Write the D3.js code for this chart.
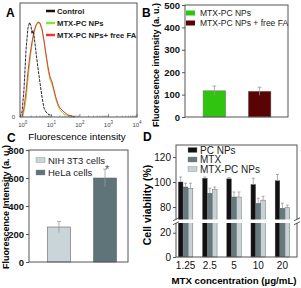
<!DOCTYPE html>
<html><head><meta charset="utf-8">
<script src="https://cdn.jsdelivr.net/npm/d3@7"></script>
<style>body{margin:0;background:#fff}svg{display:block;font-family:"Liberation Sans",Arial,sans-serif}</style>
</head><body><svg id="c" width="301" height="288"></svg>
<script>
// ---------- Panel A data (flow cytometry histograms) ----------
const aCtrlIntensity = [0.8,0.94,1.10,1.30,1.52,1.72,1.94,2.10,2.28,2.47,2.90,3.41,4.01,4.71,5.53,6.51,7.65,10.6];
const aCtrlCount     = [0,4.4,23.7,58.8,78,83,80,73,76,72,57,43,30,17.5,7.9,4.4,2.6,0.9];
const aNPIntensity   = [0.94,1.10,1.30,1.52,1.79,2.10,2.47,2.90,3.41,4.01,4.71,5.53,6.51,7.65,9.0,10.6,12.4,14.6,17.1,20.1,27.8,38.4,53.0,67.5];
const aNPCount       = [0,4.4,14.9,32.5,50,63,73.7,79.8,82.5,81.6,76.3,65.8,53.5,41.2,32.5,28,21.9,14.9,9.6,6.1,2.6,0.9,0,0];
const aNPFACount     = [0,7.9,21.9,39.5,54.4,65.8,74.6,80.7,83.3,82.5,77.2,67.5,55.3,43.9,35.1,30.7,23.7,16.7,11.4,7.9,4.4,1.75,0.9,0];
const aSeries = ["Control","MTX-PC NPs","MTX-PC NPs+ free FA"];
const aColors = ["#111111","#7ee83a","#f0323c"];
const aTickPowers = [0,1,2,3,4];

// ---------- Panel B data ----------
const bCategories = ["MTX-PC NPs","MTX-PC NPs + free FA"];
const bValues = [117,115];
const bErrors = [21,18];
const bColors = ["#2fc40f","#5a0304"];
const bTicks = [0,100,200,300,400,500];

// ---------- Panel C data ----------
const cCategories = ["NIH 3T3 cells","HeLa cells"];
const cValues = [250,600];
const cErrors = [40,63];
const cColors = ["#c9d5d8","#5f7479"];
const cTicks = [0,200,400,600,800];

// ---------- Panel D data ----------
const dConc = ["1.25","2.5","5","10","20"];
const dSeries = ["PC NPs","MTX","MTX-PC NPs"];
const dPC   = [100,103,102.5,98,101];
const dMTX  = [96,91,88,83,79];
const dMTXPC= [95,94,88,85.5,79.5];
const dPCErr   = [4,1,1,5,5];
const dMTXErr  = [3,4,4,4,4];
const dMTXPCErr= [4,2,4,3,2];
const dColors = ["#111111","#66797f","#c6d2d5"];
const dUpperTicks = [80,100,120];
const dLowerTicks = [0,20];

const svg = d3.select("#c");
const AX = "#555";
const FONT = '"Liberation Sans",Arial,sans-serif';

function box(g,x0,y0,x1,y1){
  g.append("rect").attr("x",x0).attr("y",y0).attr("width",x1-x0).attr("height",y1-y0)
   .attr("fill","none").attr("stroke",AX).attr("stroke-width",1);
}
function label(txt,x,y){
  svg.append("text").attr("x",x).attr("y",y).attr("font-size",12).attr("font-weight","bold").text(txt);
}

// ================= Panel A =================
{
  const g = svg.append("g");
  const x = d3.scaleLog().domain([0.8,10000]).range([20,137]);
  const y = d3.scaleLinear().domain([0,100]).range([117,3]);
  const line = d3.line().x(d=>x(d[0])).y(d=>y(d[1]));
  const npData = aNPIntensity.map((v,i)=>[v,aNPCount[i]]);
  const faData = aNPIntensity.map((v,i)=>[v,aNPFACount[i]]);
  const ctData = aCtrlIntensity.map((v,i)=>[v,aCtrlCount[i]]);
  g.append("path").attr("d",line(npData)).attr("fill","none").attr("stroke",aColors[1]).attr("stroke-width",1);
  g.append("path").attr("d",line(faData)).attr("fill","none").attr("stroke",aColors[2]).attr("stroke-width",1);
  g.append("path").attr("d",line(ctData)).attr("fill","none").attr("stroke",aColors[0]).attr("stroke-width",0.9).attr("stroke-dasharray","3,1");
  box(g,20,3,137,117);
  aTickPowers.forEach(p=>{
    const v = Math.pow(10,p);
    g.append("line").attr("x1",x(v)).attr("x2",x(v)).attr("y1",117).attr("y2",114).attr("stroke",AX).attr("stroke-width",0.7);
    const t = g.append("text").attr("x",x(v)).attr("y",127).attr("text-anchor","middle").attr("font-size",6).attr("fill","#444");
    t.append("tspan").text("10");
    t.append("tspan").attr("dy",-3).attr("font-size",4.5).text(p);
    if(p<4){
      for(let k=2;k<10;k++){
        const xv = x(k*v);
        g.append("line").attr("x1",xv).attr("x2",xv).attr("y1",117).attr("y2",115.5).attr("stroke",AX).attr("stroke-width",0.5);
      }
    }
  });
  g.append("text").attr("x",15).attr("y",119).attr("text-anchor","end").attr("font-size",6).attr("fill","#444").text("0");
  g.append("text").attr("x",77).attr("y",140).attr("text-anchor","middle").attr("font-size",9.8).text("Fluorescence intensity");
  const ly = [11,23,35];
  aSeries.forEach((s,i)=>{
    g.append("line").attr("x1",46).attr("x2",55).attr("y1",ly[i]).attr("y2",ly[i]).attr("stroke",aColors[i]).attr("stroke-width",2.5);
    g.append("text").attr("x",57).attr("y",ly[i]+2.8).attr("font-size",7.7).attr("font-weight","bold").attr("fill","#222").text(s);
  });
}

// ================= Panel B =================
{
  const g = svg.append("g");
  const x = d3.scaleBand().domain(bCategories).range([185,289]).paddingInner(0.5).paddingOuter(0.4);
  const y = d3.scaleLinear().domain([0,500]).range([117,5]);
  bCategories.forEach((c,i)=>{
    g.append("rect").attr("x",x(c)).attr("y",y(bValues[i])).attr("width",x.bandwidth()).attr("height",y(0)-y(bValues[i]))
     .attr("fill",bColors[i]).attr("stroke","#777").attr("stroke-width",0.5);
    const cx = x(c)+x.bandwidth()/2;
    g.append("line").attr("x1",cx).attr("x2",cx).attr("y1",y(bValues[i]+bErrors[i])).attr("y2",y(bValues[i]-bErrors[i])).attr("stroke","#999").attr("stroke-width",0.8);
    g.append("line").attr("x1",cx-2).attr("x2",cx+2).attr("y1",y(bValues[i]+bErrors[i])).attr("y2",y(bValues[i]+bErrors[i])).attr("stroke","#999").attr("stroke-width",0.8);
  });
  box(g,185,5,288,117);
  g.append("g").attr("transform","translate(185,0)").call(d3.axisLeft(y).tickValues(bTicks).tickSize(3).tickSizeOuter(0))
   .call(a=>{a.select(".domain").remove();a.selectAll("text").attr("font-size",9.5).attr("font-weight","bold").attr("fill","#111").attr("font-family",FONT).attr("dx",1);a.selectAll("line").attr("stroke",AX);});
  g.append("text").attr("transform","translate(159,65) rotate(-90)").attr("text-anchor","middle").attr("font-size",9).attr("font-weight","bold").text("Fluorescence intensity (a. u.)");
  const ly=[13,23];
  bCategories.forEach((c,i)=>{
    g.append("rect").attr("x",186).attr("y",ly[i]-2.5).attr("width",9).attr("height",5).attr("fill",bColors[i]);
    g.append("text").attr("x",200).attr("y",ly[i]+3).attr("font-size",8.5).attr("fill","#222").text(c);
  });
}

// ================= Panel C =================
{
  const g = svg.append("g");
  const x = d3.scaleBand().domain(cCategories).range([29,135]).paddingInner(0.5).paddingOuter(0.4);
  const y = d3.scaleLinear().domain([0,800]).range([262,150]);
  cCategories.forEach((c,i)=>{
    g.append("rect").attr("x",x(c)).attr("y",y(cValues[i])).attr("width",x.bandwidth()).attr("height",y(0)-y(cValues[i]))
     .attr("fill",cColors[i]).attr("stroke","#666").attr("stroke-width",0.6);
    const cx = x(c)+x.bandwidth()/2;
    g.append("line").attr("x1",cx).attr("x2",cx).attr("y1",y(cValues[i]+cErrors[i])).attr("y2",y(cValues[i]-cErrors[i])).attr("stroke","#999").attr("stroke-width",0.8);
    g.append("line").attr("x1",cx-2).attr("x2",cx+2).attr("y1",y(cValues[i]+cErrors[i])).attr("y2",y(cValues[i]+cErrors[i])).attr("stroke","#999").attr("stroke-width",0.8);
    if(i===1){
      g.append("text").attr("x",cx+2).attr("y",y(cValues[i]+cErrors[i])+4).attr("text-anchor","middle").attr("font-size",11).attr("fill","#555").text("*");
    }
  });
  box(g,29,150,128,262);
  g.append("g").attr("transform","translate(29,0)").call(d3.axisLeft(y).tickValues(cTicks).tickSize(3).tickSizeOuter(0))
   .call(a=>{a.select(".domain").remove();a.selectAll("text").attr("font-size",9.5).attr("font-weight","bold").attr("fill","#111").attr("font-family",FONT).attr("dx",1);a.selectAll("line").attr("stroke",AX);});
  g.append("text").attr("transform","translate(9,207) rotate(-90)").attr("text-anchor","middle").attr("font-size",9).attr("font-weight","bold").text("Fluorescence Intensity (a. u.)");
  const ly=[160,172.5];
  cCategories.forEach((c,i)=>{
    g.append("rect").attr("x",36).attr("y",ly[i]-2.5).attr("width",9).attr("height",5).attr("fill",cColors[i]).attr("stroke","#888").attr("stroke-width",0.4);
    g.append("text").attr("x",48).attr("y",ly[i]+3.5).attr("font-size",9.5).attr("fill","#222").text(c);
  });
}

// ================= Panel D =================
{
  const g = svg.append("g");
  const x0 = d3.scaleBand().domain(dConc).range([173.5,294.5]);
  const x1 = d3.scaleBand().domain(dSeries).range([0,14.5]).paddingInner(0.06);
  const yU = d3.scaleLinear().domain([70,130]).range([219.5,144.5]);
  const yL = d3.scaleLinear().domain([0,28]).range([257,223]);
  const vals = [dPC,dMTX,dMTXPC], errs=[dPCErr,dMTXErr,dMTXPCErr];
  dConc.forEach((c,j)=>{
    const gx = x0(c)+x0.bandwidth()/2-7.25;
    dSeries.forEach((s,i)=>{
      const v = vals[i][j], e = errs[i][j];
      const bx = gx + x1(s);
      g.append("rect").attr("x",bx).attr("y",yU(v)).attr("width",x1.bandwidth()).attr("height",257-yU(v))
       .attr("fill",dColors[i]).attr("stroke","#555").attr("stroke-width",0.4);
      const cx = bx + x1.bandwidth()/2;
      g.append("line").attr("x1",cx).attr("x2",cx).attr("y1",yU(v+e)).attr("y2",yU(v)).attr("stroke","#999").attr("stroke-width",0.8);
      g.append("line").attr("x1",cx-1.5).attr("x2",cx+1.5).attr("y1",yU(v+e)).attr("y2",yU(v+e)).attr("stroke","#999").attr("stroke-width",0.8);
    });
  });
  box(g,176,145,297,257);
  g.append("rect").attr("x",170).attr("y",219.5).attr("width",131).attr("height",3.5).attr("fill","#fff");
  [176,297].forEach(xb=>{
    [219.3,223.2].forEach(yb=>{
      g.append("line").attr("x1",xb-3).attr("x2",xb+3).attr("y1",yb+1.5).attr("y2",yb-1.5).attr("stroke","#333").attr("stroke-width",0.8);
    });
  });
  const styleAx = a=>{a.select(".domain").remove();a.selectAll("text").attr("font-size",10).attr("fill","#111").attr("font-family",FONT).attr("dx",1);a.selectAll("line").attr("stroke",AX);};
  g.append("g").attr("transform","translate(176,0)").call(d3.axisLeft(yU).tickValues(dUpperTicks).tickSize(3)).call(styleAx);
  g.append("g").attr("transform","translate(176,0)").call(d3.axisLeft(yL).tickValues(dLowerTicks).tickSize(3)).call(styleAx);
  g.append("g").attr("transform","translate(0,257)").call(d3.axisBottom(x0).tickSize(0).tickPadding(5)).call(a=>{a.select(".domain").remove();a.selectAll("text").attr("font-size",10).attr("fill","#111").attr("font-family",FONT);});
  g.append("text").attr("x",234).attr("y",284).attr("text-anchor","middle").attr("font-size",9.7).attr("font-weight","bold").text("MTX concentration (µg/mL)");
  g.append("text").attr("transform","translate(151,205) rotate(-90)").attr("text-anchor","middle").attr("font-size",10.5).attr("font-weight","bold").text("Cell viability (%)");
  const ly=[150,159.5,169];
  dSeries.forEach((s,i)=>{
    g.append("rect").attr("x",188).attr("y",ly[i]-2.5).attr("width",9).attr("height",5).attr("fill",dColors[i]).attr("stroke","#888").attr("stroke-width",0.4);
    g.append("text").attr("x",200).attr("y",ly[i]+3.5).attr("font-size",10).attr("fill","#222").text(s);
  });
}

label("A",6,17); label("B",142,17); label("C",7,142); label("D",143,141);
</script></body></html>
